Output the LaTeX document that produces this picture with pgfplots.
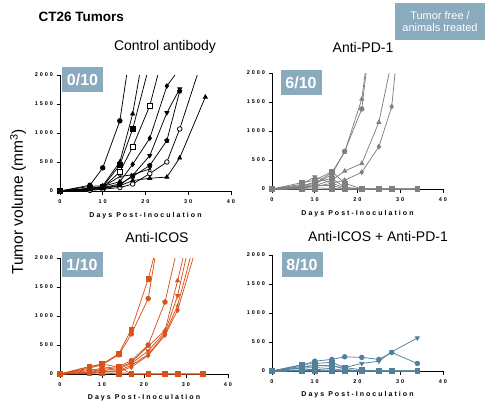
\documentclass[border=0pt]{standalone}
\usepackage{fontspec}
\setmainfont{Liberation Sans}
\newfontfamily\tickfont[LetterSpace=35]{Liberation Sans}
\newfontfamily\labfont[LetterSpace=29]{Liberation Sans}
\usepackage{pgfplots}
\pgfplotsset{compat=1.18}
\definecolor{boxblue}{RGB}{138,170,190}
\definecolor{pdgray}{RGB}{128,128,128}
\definecolor{icos}{RGB}{216,82,28}
\definecolor{combo}{RGB}{80,128,154}
\pgfplotsset{
  panel/.style={
    scale only axis, width=171pt, height=116pt,
    xmin=0, xmax=40, ymin=0, ymax=2000,
    axis lines=left, axis line style={-, line width=0.8pt, black},
    xtick={0,10,20,30,40}, ytick={0,500,1000,1500,2000},
    tick align=outside, major tick length=3.5pt,
    tick style={line width=0.7pt, black},
    tick label style={font=\tickfont\bfseries\fontsize{5.5}{6}\selectfont},
    xticklabel style={yshift=-1.2pt},
    /pgf/number format/assume math mode=true,
    /pgf/number format/1000 sep={},
    clip=true,
  },
  s/.style={line width=0.75pt, mark size=2.3pt, mark options={solid}},
  inv/.style={mark=triangle*, mark options={rotate=180}},
  open/.style={mark options={fill=white}},
}
\begin{document}
\begin{tikzpicture}[x=1pt,y=1pt]
\useasboundingbox (0,0) rectangle (486,402);

% ---------------- Control antibody
\begin{axis}[panel, at={(60pt,211pt)}, anchor=south west]
\addplot[s, black, mark=*] coordinates {(0,0)(7,100)(10,400)(14,1210)(17,2700)};
\addplot[s, black, mark=triangle*] coordinates {(0,0)(7,80)(10,90)(14,500)(17,1330)(21,3000)};
\addplot[s, black, mark=square*] coordinates {(0,0)(7,50)(10,70)(14,450)(17,1070)(21,2200)};
\addplot[s, black, mark=square*, open] coordinates {(0,0)(7,30)(10,60)(14,330)(17,760)(21,1470)(25,2600)};
\addplot[s, black, mark=diamond*] coordinates {(0,0)(7,40)(10,80)(14,160)(17,460)(21,910)(25,1810)(28,2110)};
\addplot[s, black, inv] coordinates {(0,0)(7,20)(10,50)(14,100)(17,270)(21,610)(25,1350)(28,1760)};
\addplot[s, black, mark=pentagon*] coordinates {(0,0)(7,30)(10,60)(14,120)(17,250)(21,440)(25,870)(28,1720)};
\addplot[s, black, mark=*, open] coordinates {(0,0)(7,10)(10,30)(14,60)(17,120)(21,300)(25,500)(28,1070)(34,2430)};
\addplot[s, black, mark=triangle*] coordinates {(0,0)(7,20)(10,40)(14,90)(17,180)(21,220)(25,240)(28,570)(34,1620)};
\addplot[s, black, mark=x] coordinates {(0,0)(7,40)(10,70)(14,250)(17,280)(21,380)};
\end{axis}

% ---------------- Anti-PD-1
\begin{axis}[panel, at={(272pt,213pt)}, anchor=south west, every axis plot/.append style={mark size=2.6pt}]
\addplot[s, pdgray, mark=triangle*] coordinates {(0,0)(7,60)(10,100)(14,280)(17,640)(21,1550)(25,3800)};
\addplot[s, pdgray, mark=*] coordinates {(0,0)(7,40)(10,80)(14,250)(17,650)(21,1380)(25,3860)};
\addplot[s, pdgray, mark=triangle*] coordinates {(0,0)(7,30)(10,60)(14,150)(17,310)(21,440)(25,1150)(28,2210)};
\addplot[s, pdgray, mark=diamond*] coordinates {(0,0)(7,20)(10,40)(14,100)(17,150)(21,290)(25,730)(28,1420)(34,5800)};
\addplot[s, pdgray, inv] coordinates {(0,0)(7,80)(10,210)(14,100)(17,20)(21,0)(25,0)(28,0)(34,0)};
\addplot[s, pdgray, mark=square*] coordinates {(0,0)(7,110)(10,150)(14,300)(17,100)(21,0)(25,0)(28,0)(34,0)};
\addplot[s, pdgray, mark=square*] coordinates {(0,0)(7,50)(10,120)(14,180)(17,30)(21,0)(25,0)(28,0)(34,0)};
\addplot[s, pdgray, mark=square*] coordinates {(0,0)(7,20)(10,60)(14,60)(17,0)(21,0)(25,0)(28,0)(34,0)};
\addplot[s, pdgray, mark=square*] coordinates {(0,0)(7,10)(10,20)(14,10)(17,0)(21,0)(25,0)(28,0)(34,0)};
\addplot[s, pdgray, mark=square*] coordinates {(0,0)(7,0)(10,0)(14,0)(17,0)(21,0)(25,0)(28,0)(34,0)};
\end{axis}

% ---------------- Anti-ICOS
\begin{axis}[panel, width=168pt, at={(60pt,28pt)}, anchor=south west, every axis plot/.append style={mark size=2.5pt}]
\addplot[s, icos, mark=square*] coordinates {(0,0)(7,130)(10,170)(14,350)(17,770)(21,1640)(25,2750)};
\addplot[s, icos, mark=*] coordinates {(0,0)(7,100)(10,160)(14,330)(17,690)(21,1300)(25,3050)};
\addplot[s, icos, mark=*] coordinates {(0,0)(7,60)(10,100)(14,130)(17,230)(21,500)(25,1240)(28,2190)};
\addplot[s, icos, mark=triangle*] coordinates {(0,0)(7,40)(10,80)(14,110)(17,200)(21,480)(25,750)(28,1610)(34,3410)};
\addplot[s, icos, inv] coordinates {(0,0)(7,30)(10,60)(14,90)(17,180)(21,400)(25,720)(28,1350)(34,3300)};
\addplot[s, icos, mark=star] coordinates {(0,0)(7,20)(10,40)(14,60)(17,150)(21,340)(25,690)(28,1180)(34,2820)};
\addplot[s, icos, mark=diamond*] coordinates {(0,0)(7,10)(10,30)(14,40)(17,120)(21,320)(25,670)(28,1100)(34,2560)};
\addplot[s, icos, mark=square*] coordinates {(0,0)(7,120)(10,170)(14,120)(17,0)(21,0)(25,0)(28,0)(34,0)};
\addplot[s, icos, mark=square*] coordinates {(0,0)(7,80)(10,60)(14,30)(17,0)(21,0)(25,0)(28,0)(34,0)};
\addplot[s, icos, mark=square*] coordinates {(0,0)(7,10)(10,20)(14,0)(17,0)(21,0)(25,0)(28,0)(34,0)};
\end{axis}

% ---------------- Anti-ICOS + Anti-PD-1
\begin{axis}[panel, at={(272pt,31pt)}, anchor=south west, every axis plot/.append style={mark size=2.6pt}]
\addplot[s, combo, inv] coordinates {(0,0)(7,60)(10,100)(14,80)(17,60)(21,130)(25,170)(28,330)(34,570)};
\addplot[s, combo, mark=*] coordinates {(0,0)(7,100)(10,170)(14,200)(17,245)(21,235)(25,200)(28,320)(34,130)};
\addplot[s, combo, mark=square*] coordinates {(0,0)(7,110)(10,130)(14,150)(17,60)(21,20)(25,0)(28,0)(34,0)};
\addplot[s, combo, mark=square*] coordinates {(0,0)(7,80)(10,90)(14,100)(17,30)(21,0)(25,0)(28,0)(34,0)};
\addplot[s, combo, mark=square*] coordinates {(0,0)(7,50)(10,60)(14,40)(17,10)(21,0)(25,0)(28,0)(34,0)};
\addplot[s, combo, mark=square*] coordinates {(0,0)(7,20)(10,30)(14,10)(17,0)(21,0)(25,0)(28,0)(34,0)};
\addplot[s, combo, mark=square*] coordinates {(0,0)(7,10)(10,10)(14,0)(17,0)(21,0)(25,0)(28,0)(34,0)};
\addplot[s, combo, mark=square*] coordinates {(0,0)(7,0)(10,0)(14,0)(17,0)(21,0)(25,0)(28,0)(34,0)};
\end{axis}

% ---------------- texts
\node[anchor=west, font=\bfseries\fontsize{13.5}{16}\selectfont] at (35,385) {CT26 Tumors};
\node[fill=boxblue, text=white, minimum width=90pt, minimum height=37pt, inner sep=0pt, align=center,
      font=\fontsize{11}{12}\selectfont] at (440,380.5) {Tumor free /\\animals treated};
\node[font=\fontsize{14}{16}\selectfont] at (165,355) {Control antibody};
\node[font=\fontsize{14}{16}\selectfont] at (363,355) {Anti-PD-1};
\node[font=\fontsize{14}{16}\selectfont] at (157,165) {Anti-ICOS};
\node[font=\fontsize{14}{16}\selectfont] at (378,166) {Anti-ICOS + Anti-PD-1};
\tikzset{frac/.style={fill=boxblue, text=white, minimum width=41pt, minimum height=25pt, inner sep=0pt,
      font=\bfseries\fontsize{16}{18}\selectfont}}
\node[frac] at (82.5,322.5) {0/10};
\node[frac] at (301,319.5) {6/10};
\node[frac] at (82,137.5) {1/10};
\node[frac] at (302,137.5) {8/10};
\node[rotate=90, font=\fontsize{15.5}{18}\selectfont] at (18,200) {Tumor volume (mm\textsuperscript{3})};
\tikzset{xl/.style={font=\labfont\bfseries\fontsize{7}{8}\selectfont}}
\node[xl] at (145.5,186) {Days Post-Inoculation};
\node[xl] at (357.5,188) {Days Post-Inoculation};
\node[xl] at (144,4) {Days Post-Inoculation};
\node[xl] at (357.5,7) {Days Post-Inoculation};
\end{tikzpicture}
\end{document}
